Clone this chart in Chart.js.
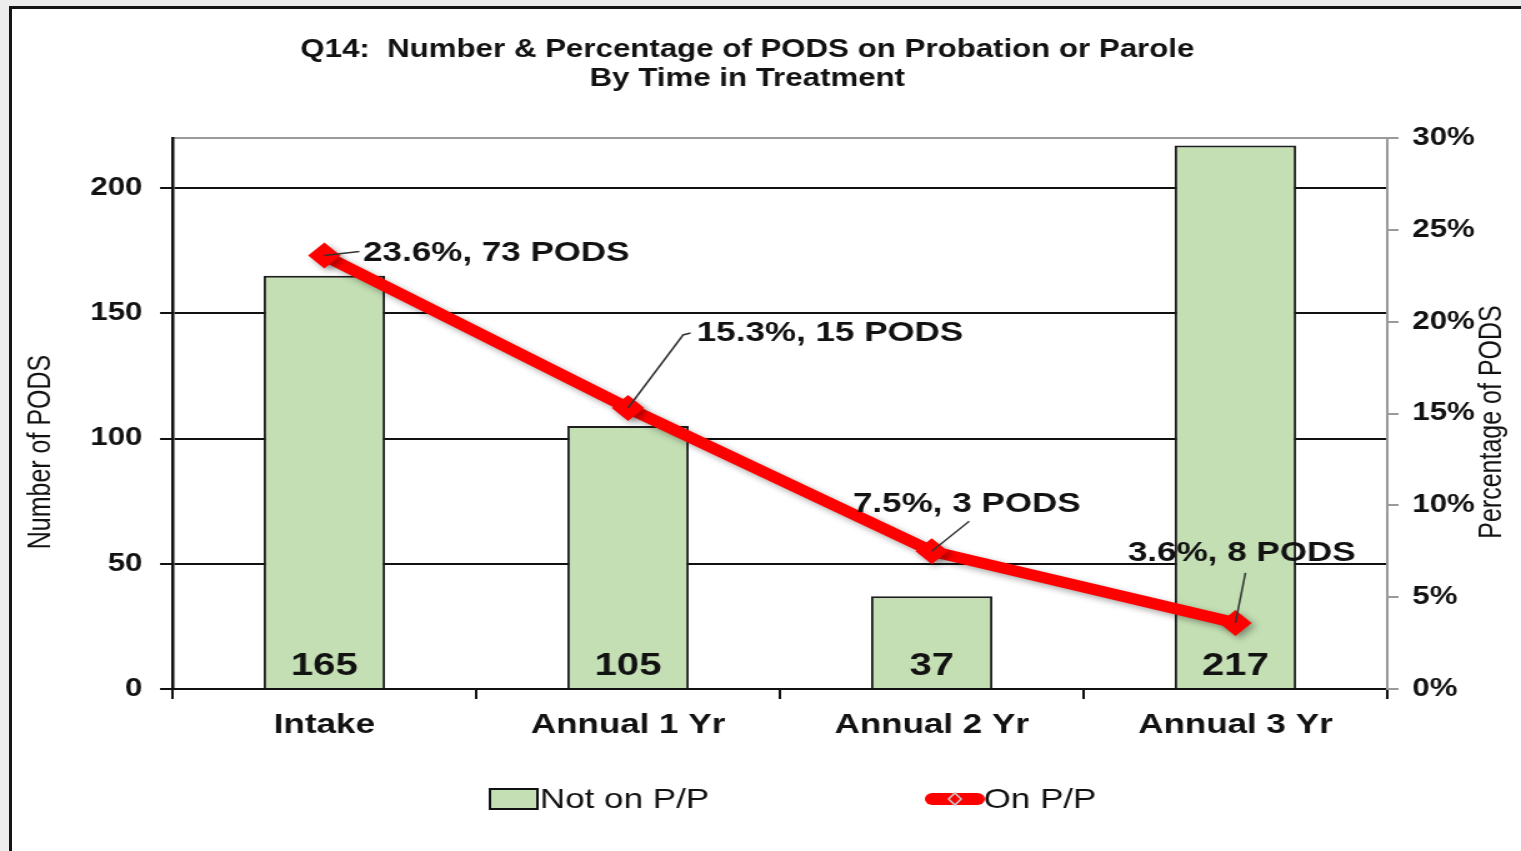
<!DOCTYPE html>
<html>
<head>
<meta charset="utf-8">
<script src="https://cdn.jsdelivr.net/npm/chart.js@4.4.1/dist/chart.umd.min.js"></script>
<style>
    html, body { margin: 0; padding: 0; background: #ededed; overflow: hidden; }
    #frame {
        position: absolute; left: 9px; top: 6px; width: 1600px; height: 900px;
        background: #fff; border-left: 3px solid #151515; border-top: 3px solid #151515;
    }
    #myChart { position: absolute; left: 0; top: 0; }
</style>
</head>
<body>
<div id="frame"></div>
<!-- drawn 1217 wide, shown 1521 wide: the source picture is stretched sideways -->
<canvas id="myChart" width="1217" height="851" style="width:1521px;height:851px"></canvas>
<script>
// chart values
const categories = ['Intake', 'Annual 1 Yr', 'Annual 2 Yr', 'Annual 3 Yr'];
const notOnPP = [165, 105, 37, 217];
const onPPPct = [23.6, 15.3, 7.5, 3.6];
const onPPCount = [73, 15, 3, 8];
const leftTicks = [0, 50, 100, 150, 200];
const rightTicks = [0, 5, 10, 15, 20, 25, 30];
const titleLines = ['Q14:  Number & Percentage of PODS on Probation or Parole', 'By Time in Treatment'];

// label placement (px, relative to the point) for the line callouts
const calloutText = [[31, -2], [55, -75], [-63, -47], [-86, -70]];
const calloutLeader = [[28, -4], [44, -73], [30, -30], [8, -50]];

const FONT = '"Liberation Sans", Arial, sans-serif';
const INK = '#121212';
const GREEN = '#c4dfb4';

const decorations = {
    id: 'decorations',
    beforeDatasetDraw(chart, args) {
        if (args.index === 1) {
            const ctx = chart.ctx;
            ctx.save();
            ctx.shadowColor = 'rgba(0,0,0,0.35)';
            ctx.shadowBlur = 6;
            ctx.shadowOffsetX = 3;
            ctx.shadowOffsetY = 3;
        }
    },
    afterDatasetDraw(chart, args) {
        if (args.index === 1) chart.ctx.restore();
    },
    afterDraw(chart) {
        const ctx = chart.ctx;
        const bars = chart.getDatasetMeta(0).data;
        const pts = chart.getDatasetMeta(1).data;

        ctx.save();
        ctx.fillStyle = INK;
        ctx.textAlign = 'center';
        ctx.textBaseline = 'middle';

        // title
        ctx.font = 'bold 25px ' + FONT;
        ctx.fillText(titleLines[0], 598, 50);
        ctx.fillText(titleLines[1], 598, 79);

        // values inside bars
        ctx.font = 'bold 32px ' + FONT;
        bars.forEach((b, i) => {
            ctx.fillText(String(notOnPP[i]), b.x, chart.chartArea.bottom - 23);
        });

        // callouts on the line
        ctx.font = 'bold 28px ' + FONT;
        ctx.textAlign = 'left';
        pts.forEach((p, i) => {
            const [lx, ly] = calloutLeader[i];
            ctx.strokeStyle = '#333';
            ctx.lineWidth = 1.5;
            ctx.beginPath();
            ctx.moveTo(p.x, p.y);
            ctx.lineTo(p.x + lx, p.y + ly);
            if (i === 1) ctx.lineTo(p.x + lx + 6, p.y + ly - 2);
            ctx.stroke();
            const [tx, ty] = calloutText[i];
            ctx.fillText(onPPPct[i] + '%, ' + onPPCount[i] + ' PODS', p.x + tx, p.y + ty);
        });

        // axis titles
        ctx.font = '25px ' + FONT;
        ctx.textAlign = 'center';
        ctx.save();
        ctx.translate(33, 452);
        ctx.rotate(-Math.PI / 2);
        ctx.fillText('Number of PODS', 0, 0);
        ctx.restore();
        ctx.save();
        ctx.translate(1194, 422);
        ctx.rotate(-Math.PI / 2);
        ctx.fillText('Percentage of PODS', 0, 0);
        ctx.restore();

        // legend
        const ly = 799;
        ctx.fillStyle = GREEN;
        ctx.fillRect(392, ly - 10, 38, 20);
        ctx.strokeStyle = '#111';
        ctx.lineWidth = 2;
        ctx.strokeRect(392, ly - 10, 38, 20);
        ctx.fillStyle = INK;
        ctx.font = '28px ' + FONT;
        ctx.textAlign = 'left';
        ctx.fillText('Not on P/P', 432, ly + 1);

        ctx.strokeStyle = '#ff0000';
        ctx.lineWidth = 12;
        ctx.lineCap = 'round';
        ctx.beginPath();
        ctx.moveTo(746, ly);
        ctx.lineTo(782, ly);
        ctx.stroke();
        ctx.strokeStyle = '#c8c8c8';
        ctx.lineWidth = 1.5;
        ctx.beginPath();
        ctx.moveTo(764, ly - 6);
        ctx.lineTo(769, ly);
        ctx.lineTo(764, ly + 6);
        ctx.lineTo(759, ly);
        ctx.closePath();
        ctx.stroke();
        ctx.fillText('On P/P', 787, ly + 1);

        ctx.restore();
    }
};

new Chart(document.getElementById('myChart').getContext('2d'), {
    data: {
        labels: categories,
        datasets: [
            {
                type: 'bar',
                label: 'Not on P/P',
                data: notOnPP,
                backgroundColor: GREEN,
                borderColor: '#1e1e1e',
                borderWidth: 2,
                barPercentage: 0.4,
                categoryPercentage: 1,
                yAxisID: 'y',
                order: 2
            },
            {
                type: 'line',
                label: 'On P/P',
                data: onPPPct,
                borderColor: '#ff0000',
                backgroundColor: '#ff0000',
                borderWidth: 11,
                pointStyle: 'rectRot',
                pointRadius: 13,
                pointBorderWidth: 0,
                tension: 0,
                yAxisID: 'y1',
                order: 1
            }
        ]
    },
    options: {
        responsive: false,
        animation: false,
        events: [],
        layout: { padding: { top: 138, left: 0, right: 0, bottom: 0 } },
        plugins: {
            legend: { display: false },
            title: { display: false },
            tooltip: { enabled: false }
        },
        scales: {
            x: {
                afterFit: s => { s.height = 162; },
                grid: { offset: true, drawOnChartArea: false, color: '#111', lineWidth: 2, tickLength: 10 },
                border: { color: '#111', width: 2 },
                ticks: { color: INK, font: { family: FONT, size: 28, weight: 'bold' }, padding: 9 }
            },
            y: {
                position: 'left',
                min: 0,
                max: 220,
                afterFit: s => { s.width = 138; },
                afterBuildTicks: s => { s.ticks = leftTicks.map(v => ({ value: v })); },
                grid: { color: '#111', lineWidth: 2, tickLength: 10 },
                border: { color: '#111', width: 2.5 },
                ticks: { color: INK, font: { family: FONT, size: 25, weight: 'bold' }, padding: 14 }
            },
            y1: {
                position: 'right',
                min: 0,
                max: 30,
                afterFit: s => { s.width = 107; },
                afterBuildTicks: s => { s.ticks = rightTicks.map(v => ({ value: v })); },
                grid: {
                    color: c => (c.tick && c.tick.value === 30 ? '#9a9a9a' : 'rgba(0,0,0,0)'),
                    tickColor: '#9a9a9a',
                    lineWidth: 2,
                    tickLength: 9
                },
                border: { color: '#9a9a9a', width: 2 },
                ticks: {
                    color: INK,
                    font: { family: FONT, size: 25, weight: 'bold' },
                    padding: 11,
                    callback: v => v + '%'
                }
            }
        }
    },
    plugins: [decorations]
});
</script>
</body>
</html>
